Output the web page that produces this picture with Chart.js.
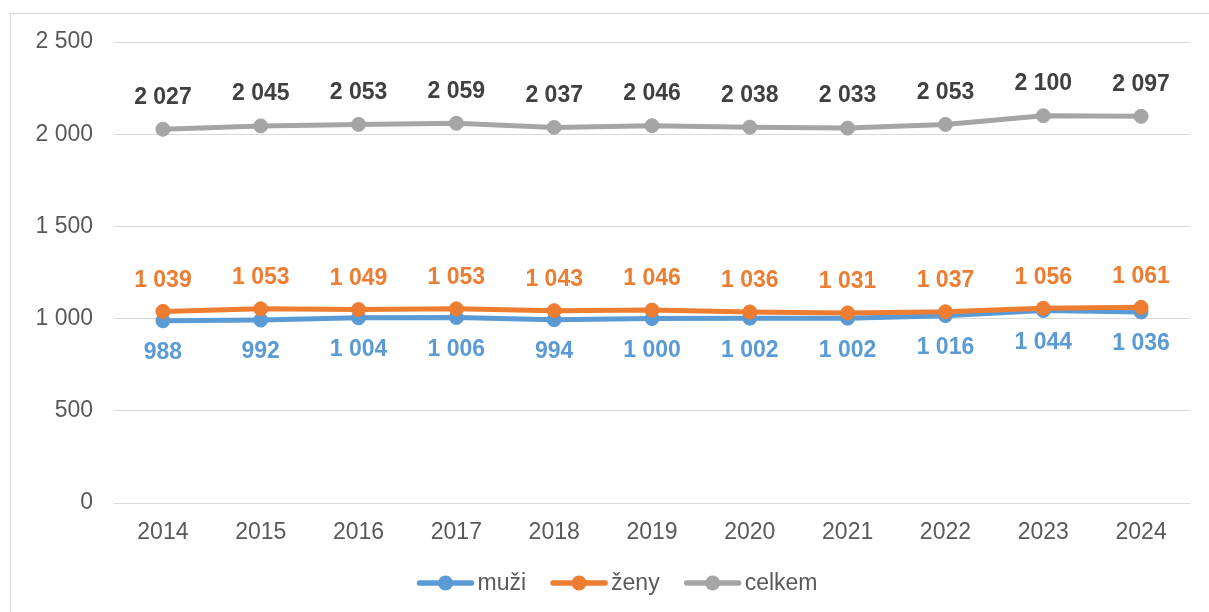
<!DOCTYPE html>
<html>
<head>
<meta charset="utf-8">
<script src="https://cdn.jsdelivr.net/npm/chart.js@4.4.1/dist/chart.umd.min.js"></script>
<style>
html,body{margin:0;padding:0;background:#fff;}
#wrap{position:relative;width:1209px;height:612px;}
</style>
</head>
<body>
<div id="wrap"><canvas id="c" width="1209" height="612"></canvas></div>
<script>
const years = ['2014','2015','2016','2017','2018','2019','2020','2021','2022','2023','2024'];
const muzi = [988, 992, 1004, 1006, 994, 1000, 1002, 1002, 1016, 1044, 1036];
const zeny = [1039, 1053, 1049, 1053, 1043, 1046, 1036, 1031, 1037, 1056, 1061];
const celkem = [2027, 2045, 2053, 2059, 2037, 2046, 2038, 2033, 2053, 2100, 2097];
const seriesNames = ['muži', 'ženy', 'celkem'];

const FONT = "'Liberation Sans', Arial, sans-serif";
const colors = ['#5B9BD5', '#ED7D31', '#A5A5A5'];
const labelColors = ['#5B9BD5', '#ED7D31', '#404040'];
const labelOffsets = [32, -31, -32];

function fmt(v){ return String(v).replace(/\B(?=(\d{3})+(?!\d))/g, ' '); }

const frame = {
  id:'frame',
  beforeDraw(chart){
    const ctx = chart.ctx; ctx.save();
    ctx.strokeStyle = '#D9D9D9'; ctx.lineWidth = 1;
    ctx.strokeRect(10.5, 13.5, 1400, 800);
    ctx.restore();
  }
};

const dataLabels = {
  id:'dataLabels',
  afterDatasetsDraw(chart){
    const ctx = chart.ctx; ctx.save();
    ctx.font = 'bold 23px ' + FONT;
    ctx.textAlign = 'center'; ctx.textBaseline = 'middle';
    chart.data.datasets.forEach((ds, i) => {
      const meta = chart.getDatasetMeta(i);
      ctx.fillStyle = labelColors[i];
      meta.data.forEach((pt, j) => {
        ctx.fillText(fmt(ds.data[j]), pt.x, pt.y + labelOffsets[i]);
      });
    });
    ctx.restore();
  }
};

const customLegend = {
  id:'customLegend',
  afterDraw(chart){
    const ctx = chart.ctx; ctx.save();
    ctx.font = '23px ' + FONT;
    ctx.textBaseline = 'middle';
    const lineLen = 56, gapText = 4, gapItem = 25, y = 583;
    const widths = seriesNames.map(n => lineLen + gapText + ctx.measureText(n).width);
    const total = widths.reduce((a,b)=>a+b,0) + gapItem*(seriesNames.length-1);
    let x = chart.width/2 - total/2 + 13;
    seriesNames.forEach((n, i) => {
      ctx.strokeStyle = colors[i]; ctx.lineWidth = 5.5; ctx.lineCap = 'round';
      ctx.beginPath(); ctx.moveTo(x+2, y); ctx.lineTo(x+lineLen-2, y); ctx.stroke();
      ctx.fillStyle = colors[i];
      ctx.beginPath(); ctx.arc(x+lineLen/2, y, 7.5, 0, Math.PI*2); ctx.fill();
      ctx.fillStyle = '#595959'; ctx.textAlign = 'left';
      ctx.fillText(n, x + lineLen + gapText, y + 1);
      x += widths[i] + gapItem;
    });
    ctx.restore();
  }
};

const datasets = [muzi, zeny, celkem].map((d, i) => ({
  label: seriesNames[i],
  data: d,
  borderColor: colors[i],
  backgroundColor: colors[i],
  borderWidth: 5,
  pointRadius: 7,
  pointBorderWidth: 1,
  pointHoverRadius: 7,
  tension: 0,
  fill: false
}));
datasets[0].order = 2; datasets[1].order = 1; datasets[2].order = 3;

new Chart(document.getElementById('c'), {
  type:'line',
  data:{ labels: years, datasets },
  options:{
    responsive:false,
    animation:false,
    devicePixelRatio:1,
    layout:{ padding:{ left:0, right:19, top:42, bottom:64 } },
    plugins:{ legend:{display:false}, tooltip:{enabled:false} },
    scales:{
      x:{
        offset:true,
        grid:{ display:false, drawTicks:false },
        border:{ display:false },
        ticks:{ color:'#595959', font:{ family:FONT, size:23 }, padding:16 },
        afterFit(s){ s.height = 45; }
      },
      y:{
        min:0, max:2500,
        grid:{ color:'#D9D9D9', lineWidth:1, drawTicks:false },
        border:{ display:false },
        ticks:{ stepSize:500, color:'#595959', font:{ family:FONT, size:23 }, padding:21,
          callback:(v)=>fmt(v) },
        afterFit(s){ s.width = 114; }
      }
    }
  },
  plugins:[frame, dataLabels, customLegend]
});
</script>
</body>
</html>
